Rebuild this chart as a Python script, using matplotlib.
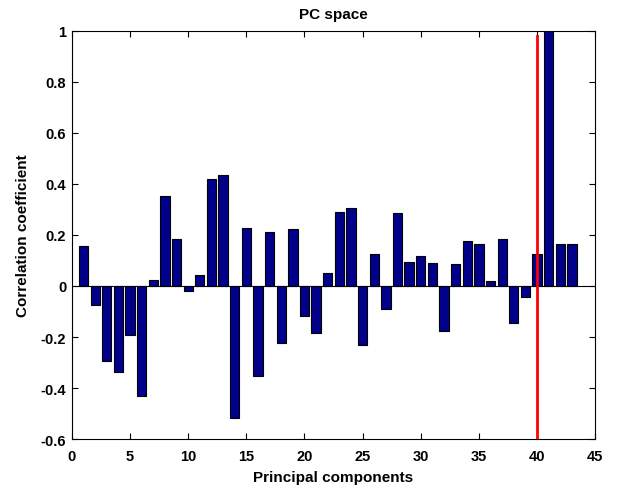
import matplotlib
matplotlib.use("Agg")
import matplotlib.pyplot as plt
import numpy as np

components = list(range(1, 44))
correlation = [0.157, -0.074, -0.295, -0.338, -0.193, -0.433, 0.024, 0.354, 0.184, -0.020,
               0.043, 0.420, 0.433, -0.518, 0.227, -0.354, 0.211, -0.225, 0.222, -0.117,
               -0.183, 0.051, 0.291, 0.307, -0.231, 0.127, -0.090, 0.287, 0.094, 0.119,
               0.089, -0.176, 0.086, 0.175, 0.164, 0.018, 0.184, -0.145, -0.042, 0.127,
               1.0, 0.164, 0.164]
cutoff = 40
xticks = list(range(0, 50, 5))
yticks = [-0.6, -0.4, -0.2, 0, 0.2, 0.4, 0.6, 0.8, 1]
ytick_labels = ["-0.6", "-0.4", "-0.2", "0", "0.2", "0.4", "0.6", "0.8", "1"]

plt.rcParams['font.family'] = ['Liberation Sans', 'DejaVu Sans']
plt.rcParams['font.weight'] = 'bold'

fig = plt.figure(figsize=(6.2, 4.89), dpi=100)
ax = fig.add_axes([0.116, 0.100, 0.844, 0.835])

ax.bar(components, correlation, width=0.8, color='#00008B', edgecolor='black', linewidth=0.8, zorder=2)
ax.axhline(0, color='black', linewidth=0.8, zorder=3)
ax.plot([cutoff, cutoff], [-0.6, 0.98], color='red', linewidth=2, zorder=4)

ax.set_xlim(0, 45)
ax.set_ylim(-0.6, 1)
ax.set_xticks(xticks)
ax.set_yticks(yticks)
ax.set_yticklabels(ytick_labels)
ax.tick_params(direction='in', top=True, right=True, labelsize=10.5, length=4, width=0.8)
ax.tick_params(axis='x', pad=7)
ax.tick_params(axis='y', pad=4)
for lbl in ax.get_xticklabels() + ax.get_yticklabels():
    lbl.set_fontweight('bold')
for s in ax.spines.values():
    s.set_linewidth(0.8)

ax.set_title("PC space", fontsize=11, fontweight='bold', pad=9)
ax.set_xlabel("Principal components", fontsize=11, fontweight='bold', labelpad=5)
ax.set_ylabel("Correlation coefficient", fontsize=11, fontweight='bold', labelpad=8)

fig.savefig("out.png", dpi=100)
